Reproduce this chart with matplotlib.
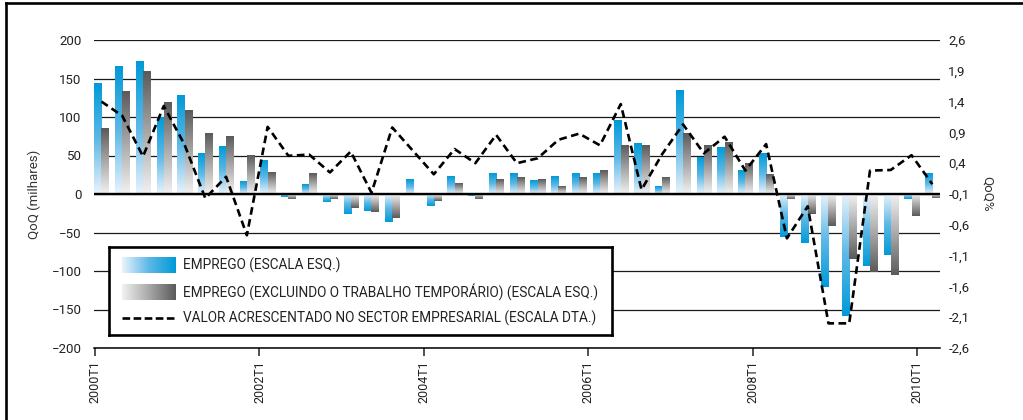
import numpy as np
import matplotlib
matplotlib.use("Agg")
import matplotlib.pyplot as plt
from matplotlib.colors import LinearSegmentedColormap
from matplotlib.lines import Line2D

plt.rcParams['font.family'] = ['Roboto', 'DejaVu Sans']

# quarterly data, 2000T1 .. 2010T1
emprego = [144, 165, 172, 99, 128, 53, 62, 16, 43, -4, 12, -10,
           -26, -22, -36, 19, -16, 23, -3, 26, 27, 18, 23, 27,
           26, 95, 65, 10, 134, 47, 60, 30, 52, -56, -63, -121,
           -159, -93, -79, -6, 26]
emprego_sem_tt = [85, 133, 159, 119, 108, 78, 75, 50, 28, -6, 26, -6,
                  -18, -23, -31, 0, -9, 13, -7, 19, 21, 19, 10, 22,
                  31, 63, 63, 22, 79, 63, 67, 39, 25, -6, -26, -41,
                  -84, -101, -105, -29, -5]
vab = [1.40, 1.17, 0.51, 1.33, 0.70, -0.17, 0.18, -0.77, 0.99, 0.52, 0.54, 0.25,
       0.59, -0.08, 0.98, 0.60, 0.22, 0.63, 0.40, 0.86, 0.40, 0.48, 0.78, 0.88,
       0.69, 1.36, -0.03, 0.55, 1.03, 0.56, 0.83, 0.28, 0.71, -0.82, -0.30, -2.20,
       -2.20, 0.28, 0.29, 0.53, 0.06]
tick_labels = ['2000T1', '2002T1', '2004T1', '2006T1', '2008T1', '2010T1']
right_labels = ['-2,6', '-2,1', '-1,6', '-1,1', '-0,6', '-0,1',
                '0,4', '0,9', '1,4', '1,9', '2,6']
legend_labels = ['EMPREGO (ESCALA ESQ.)',
                 'EMPREGO (EXCLUINDO O TRABALHO TEMPORÁRIO) (ESCALA ESQ.)',
                 'VALOR ACRESCENTADO NO SECTOR EMPRESARIAL (ESCALA DTA.)']

blue_cm = LinearSegmentedColormap.from_list('b', ['#eaf3fc', '#5cb8e6', '#009ad8'])
gray_cm = LinearSegmentedColormap.from_list('g', ['#f2f2f2', '#a8a8a8', '#5a5a5a'])
grad = np.linspace(0, 1, 256).reshape(-1, 1)

W, H = 1023, 420
fig = plt.figure(figsize=(W / 100, H / 100), dpi=100)
ax = fig.add_axes([94.3 / W, 1 - 348 / H, (940 - 94.3) / W, (348 - 40) / H])

x = np.arange(len(emprego))
w = 0.345
for i in x:
    ax.imshow(grad, cmap=blue_cm, extent=[i - w, i, 0, emprego[i]],
              origin='lower', aspect='auto', interpolation='bilinear', zorder=2)
    ax.imshow(grad, cmap=gray_cm, extent=[i, i + w, 0, emprego_sem_tt[i]],
              origin='lower', aspect='auto', interpolation='bilinear', zorder=2)

ax.set_xlim(-w, 40.37)
ax.set_ylim(-200, 200)
ax.set_yticks(range(-200, 201, 50))
ax.yaxis.grid(True, color='#1a1a1a', lw=0.9)
ax.set_axisbelow(True)
ax.axhline(0, color='black', lw=1.7, zorder=5)
for s in ['top', 'left', 'right']:
    ax.spines[s].set_visible(False)
ax.spines['bottom'].set_linewidth(1.1)
ax.set_xticks(np.linspace(-0.31, 39.28, 6))
ax.set_xticklabels(tick_labels, rotation=90, va='top', ha='center')
ax.tick_params(axis='x', length=6, width=1.1, pad=3, labelsize=9, colors='#222')
ax.tick_params(axis='y', length=0, pad=9, labelsize=9.5, colors='#222')
ax.set_ylabel('QoQ (milhares)', fontsize=9.5, color='#333', labelpad=8)

ax2 = ax.twinx()
ax2.plot(x, vab, color='black', lw=1.9, dashes=(2.9, 1.7))
ax2.set_ylim(-2.6, 2.4)
ax2.set_yticks(np.arange(-2.6, 2.41, 0.5))
ax2.set_yticklabels(right_labels)
ax2.tick_params(axis='y', length=0, pad=6, labelsize=9.5, colors='#222')
for s in ax2.spines.values():
    s.set_visible(False)
ax2.set_ylabel('QoQ%', rotation=270, fontsize=9.5, color='#333', labelpad=17)

# legend box
lax = fig.add_axes([108.5 / W, 1 - 334.5 / H, (612 - 108.5) / W, (334.5 - 246.5) / H])
lax.set_zorder(10)
lax.set_xticks([])
lax.set_yticks([])
for s in lax.spines.values():
    s.set_linewidth(1.9)
    s.set_color('black')
hgrad = np.linspace(0, 1, 256).reshape(1, -1)
lax.imshow(hgrad, cmap=blue_cm, extent=[122.3, 176, 272.7, 257.3], aspect='auto')
lax.imshow(hgrad, cmap=gray_cm, extent=[122.3, 176, 300, 284], aspect='auto')
lax.plot([122.3, 176], [318, 318], color='black', lw=1.9, dashes=(2.9, 1.3))
lax.set_xlim(108.5, 612)
lax.set_ylim(334.5, 246.5)
for yy, txt in zip([265, 292, 318], legend_labels):
    lax.text(183.3, yy, txt, va='center', ha='left', fontsize=9.8, color='#222')

# outer frame (top and left edges visible)
fig.add_artist(Line2D([5.8 / W, 1], [1 - 2.5 / H, 1 - 2.5 / H], color='black', lw=1.9))
fig.add_artist(Line2D([5.8 / W, 5.8 / W], [0, 1 - 2.5 / H], color='black', lw=1.9))

fig.savefig('out.png', dpi=100)
